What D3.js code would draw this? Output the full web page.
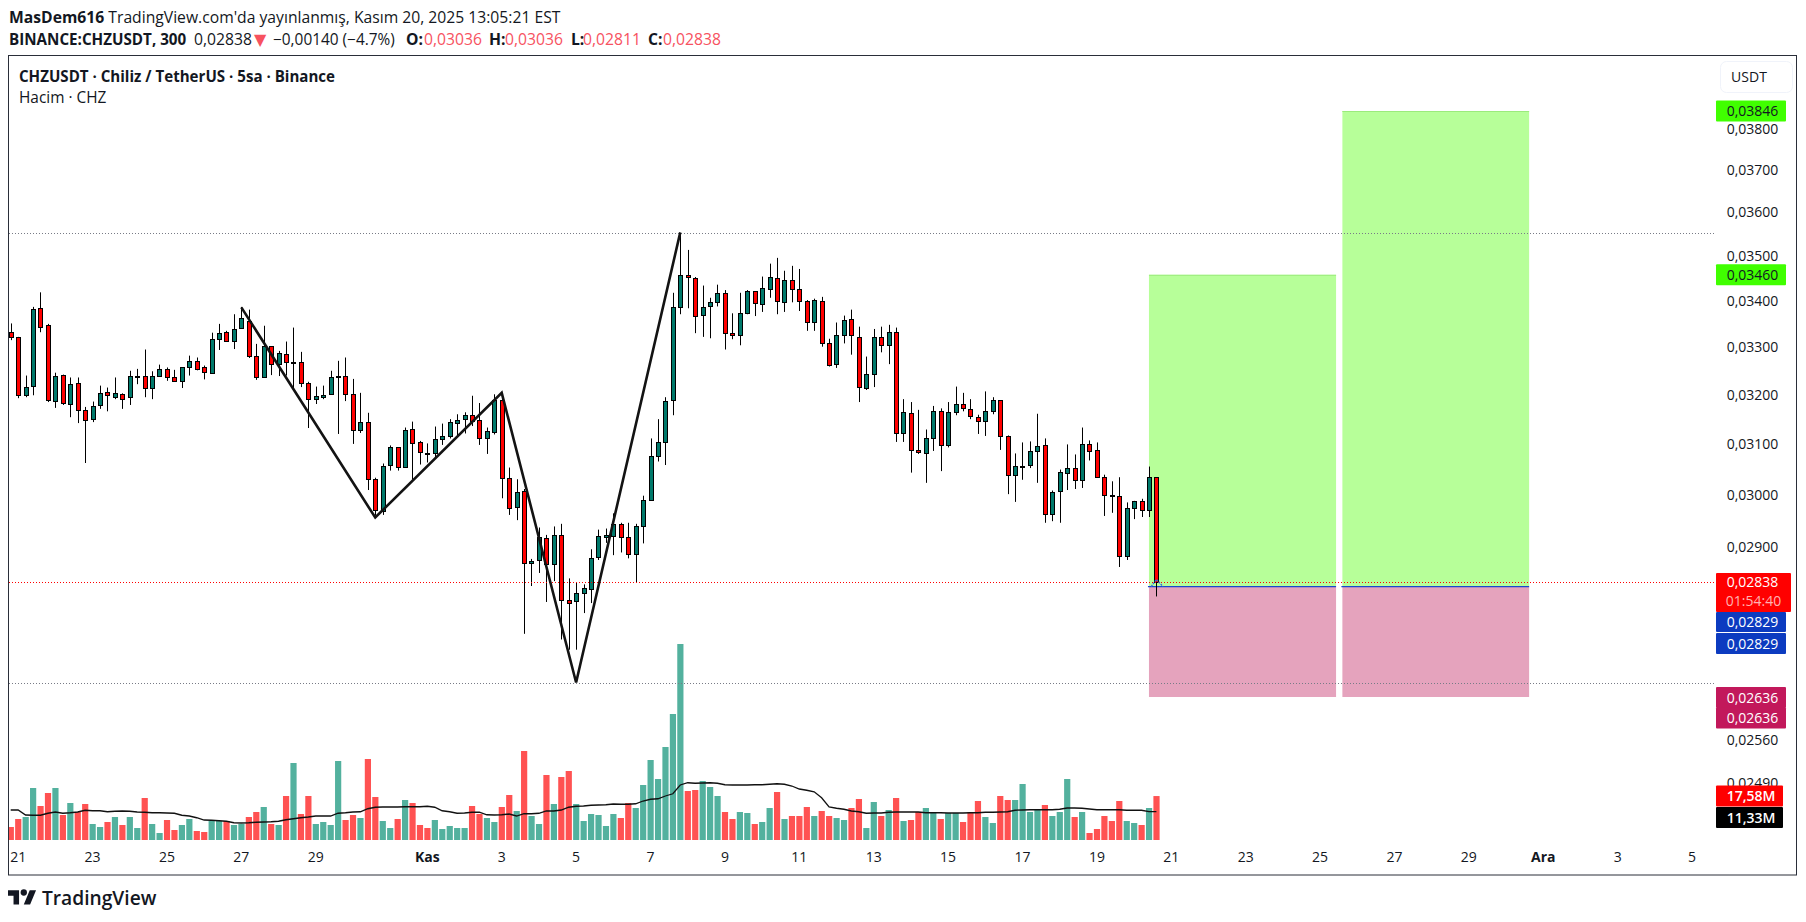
<!DOCTYPE html>
<html><head><meta charset="utf-8">
<script src="https://cdn.jsdelivr.net/npm/d3@7/dist/d3.min.js"></script>
<style>html,body{margin:0;padding:0;background:#fff;overflow:hidden}svg{display:block}text{font-family:"Open Sans",sans-serif}</style>
</head><body><div id="c"></div>
<script>
const opens=[.03335,.03324,.03202,.03221,.03387,.0335,.03189,.03244,.03183,.03227,.03171,.03153,.03181,.03208,.03198,.03204,.03198,.0324,.03242,.03217,.03242,.03256,.0324,.03231,.03259,.03273,.03259,.03248,.0332,.03335,.03316,.03344,.03359,.03284,.0324,.03304,.03267,.03288,.0327,.03271,.03227,.03193,.03198,.03204,.0324,.03242,.03204,.03129,.03147,.03032,.02971,.0306,.03095,.03057,.03133,.03105,.03084,.03084,.03111,.03117,.03145,.03153,.03161,.03151,.03114,.03125,.03191,.03034,.02979,.0301,.02873,.02878,.02919,.02871,.02925,.02805,.02802,.02818,.02824,.02884,.02921,.02923,.02946,.02921,.02889,.02942,.02992,.03077,.03106,.03191,.03389,.0346,.03453,.03372,.03391,.034,.0342,.03333,.03327,.03376,.03423,.03396,.03429,.03453,.034,.03449,.03429,.03402,.03357,.03402,.03311,.03267,.03329,.03363,.03324,.03217,.03246,.03324,.03307,.03335,.03123,.03165,.0309,.03083,.03113,.03169,.03099,.03167,.03183,.03173,.03157,.03149,.03169,.03191,.03117,.03041,.03058,.03061,.03088,.03099,.02964,.0301,.03045,.03055,.0303,.03101,.0309,.03037,.03002,.03,.02886,.02977,.0299,.02973,.03036];
const closes=[.03324,.03201,.03219,.03385,.03346,.03191,.03242,.03185,.03225,.03171,.03151,.03179,.03206,.03202,.03206,.03193,.03242,.03242,.03217,.03242,.03256,.0324,.03231,.03259,.03273,.03256,.0325,.0332,.03333,.03316,.03342,.03365,.03284,.0324,.03304,.03267,.0329,.03271,.03271,.03227,.03193,.032,.03202,.0324,.03242,.03204,.03129,.03147,.03033,.02972,.03059,.03095,.03057,.03131,.03103,.03086,.03083,.03111,.03117,.03146,.03151,.03161,.03149,.03114,.03128,.03191,.03034,.02977,.03008,.02873,.02877,.02921,.02871,.02925,.02805,.028,.02818,.02827,.02882,.02923,.02925,.02946,.02921,.02889,.02941,.02992,.03077,.03106,.03189,.03389,.0346,.03455,.0337,.03389,.034,.0342,.03333,.03327,.03376,.03423,.03398,.03431,.03455,.03402,.03449,.03429,.03402,.03357,.03404,.03311,.03265,.03329,.03361,.03327,.03219,.03246,.03324,.03307,.03335,.03123,.03167,.0309,.03085,.03113,.03169,.03099,.03167,.03183,.03175,.03159,.03149,.03169,.03191,.03117,.03041,.03059,.03059,.03088,.03097,.02964,.03008,.03047,.03055,.0303,.03101,.03088,.03037,.03002,.03,.02886,.02977,.02989,.02973,.03036,.02838];
const highs=[.03353,.03324,.03242,.03389,.03421,.03352,.03248,.03244,.03238,.03238,.03177,.03188,.03221,.03217,.03238,.03205,.03252,.03256,.03297,.03251,.03265,.03259,.03254,.03259,.03284,.0328,.03263,.03333,.03352,.03337,.03373,.03389,.03383,.03309,.03348,.03304,.03294,.03314,.03344,.03292,.03229,.03219,.03221,.03252,.03273,.0328,.03235,.03206,.03165,.03035,.03063,.03099,.03095,.03135,.03147,.03108,.03103,.03137,.03143,.03152,.03162,.03166,.032,.03185,.03135,.03203,.03206,.03055,.03032,.03013,.0288,.02939,.02925,.02941,.02946,.02844,.02836,.02833,.02898,.02935,.02937,.02966,.02948,.02948,.02946,.03,.03113,.03152,.03197,.0342,.03552,.03516,.03455,.03436,.03409,.03438,.03426,.03375,.0342,.03426,.03423,.03456,.03485,.03498,.03469,.0348,.03473,.03404,.03407,.03411,.0332,.03355,.0337,.03383,.03346,.03282,.03341,.03346,.0335,.03344,.03193,.03187,.03171,.03131,.03179,.03174,.03187,.03219,.03206,.03193,.03161,.03209,.03197,.03191,.03119,.03083,.03105,.03107,.03163,.03113,.0301,.03051,.03101,.03081,.03135,.03109,.03105,.03041,.03028,.03036,.02987,.0299,.02994,.03057,.03036];
const lows=[.03317,.03195,.03197,.03201,.03334,.03187,.03175,.03181,.03156,.03144,.03064,.03146,.03173,.03168,.03193,.03173,.03181,.03224,.03197,.03193,.0324,.03231,.03231,.03216,.03242,.03253,.03234,.03248,.03296,.03313,.03298,.03344,.03279,.03233,.03238,.03243,.03241,.03242,.03213,.03218,.03134,.03183,.03193,.03204,.03122,.03189,.03102,.03124,.03011,.02962,.02963,.03049,.03049,.03057,.03031,.03061,.03065,.03073,.031,.03113,.03117,.03123,.03138,.031,.03082,.03121,.02995,.02963,.02953,.02744,.0283,.02854,.02801,.02839,.02734,.02716,.02716,.02781,.02799,.02878,.0291,.02887,.02892,.02881,.02836,.02909,.02992,.03067,.0306,.0316,.03373,.03386,.03332,.03324,.03321,.0339,.03297,.03319,.03306,.03373,.03369,.03378,.03409,.03373,.03378,.03399,.0338,.03337,.03337,.03303,.03261,.03258,.0331,.03286,.03187,.03212,.03218,.03291,.03266,.03106,.03106,.03045,.03082,.03025,.03088,.03048,.03095,.0316,.03168,.03152,.03122,.03118,.03162,.0309,.03003,.02988,.03031,.03054,.03025,.02948,.02951,.02948,.03011,.03013,.03015,.03069,.03037,.02961,.02967,.02865,.02878,.02955,.02959,.02959,.02811];
const volumes=[5.2,8.4,9.2,20.8,13.6,18.8,20.8,10,14.8,11.2,14.4,6.4,5.2,7.2,9.2,6,9.2,4.8,16.8,6.4,2.8,8,4,6,8.4,3.6,3.2,7.6,7.6,7.6,6,6.4,9.2,11.2,13.2,6.4,6,17.6,30.8,10.4,17.6,6.4,7.2,6,31.6,8,10,8.8,32.4,17.2,7.6,4.8,8.4,16,14.8,6,4.8,8,4.4,5.6,4.8,4.8,13.6,10.4,8.8,7.2,13.2,18,11.6,35.6,9.6,6.4,26,14.4,25.2,27.6,14.4,7.6,10.4,10,5.6,10.4,8.8,14.8,12.8,22,32,24.4,37.2,50.4,78.4,19.6,20,23.6,21.2,17.6,11.2,8.4,11.2,10.8,6.4,7.2,12.8,19.2,8.4,9.6,9.6,13.2,9.6,11.6,9.6,8.8,8,12.8,16.4,4.8,15.2,9.6,12,16.8,7.6,8,11.2,12.8,10.8,8.4,10.8,10.8,7.2,11.2,15.6,9.2,6.8,17.6,16,16,22.4,11.2,12,14,9.6,11.2,24.4,9.2,11.2,2.8,4.4,9.6,7.6,15.6,7.6,6.8,6,12.8,17.58];
const volumeMA=[12,12,10,9.9,9.9,10.7,11.2,10.7,10.9,11.2,11.9,11.7,11.7,11.3,11.5,11.6,11.5,11.2,11.1,10.9,10.9,10.8,10.7,9.9,9.6,8.9,8,7.9,7.7,7.5,6.9,6.8,6.9,7.1,7.2,7.3,7.5,8.1,8.5,8.9,9.2,9.6,9.6,9.6,10.7,10.9,11.2,11.3,12.5,13.1,13.2,13.2,13.2,13.3,13.3,13.3,13.5,13.1,11.7,11.3,10.7,10.8,11.1,11.1,10.1,10,10.1,10.4,9.6,10.5,10.5,10.7,11.6,11.6,12,13.1,13.5,13.6,13.9,14,14.1,14.4,14.3,14.3,14.5,15.6,16.3,16.5,17.6,18.5,22,22.9,22.7,22.8,22.9,22.7,22.1,22,22,22,22.1,22.1,22.3,22.5,22.3,21.6,20.4,19.9,19.3,16.9,13.2,12.7,12.3,11.6,11.3,10.7,10.8,10.8,11.1,11.2,11.2,11.2,11.2,10.9,10.9,10.9,10.8,10.8,10.8,10.9,10.9,11.1,11.1,11.2,11.3,11.9,12,12.1,12.1,12.1,12.1,12.3,12.8,12.8,12.7,12.4,12.1,12.1,12.1,12.1,11.9,11.9,11.9,11.33,11.33];

const priceTicks=[.038,.037,.036,.035,.034,.033,.032,.031,.03,.029,.0256,.0249];
const dayTickLabels=["21","23","25","27","29","Kas","3","5","7","9","11","13","15","17","19","21","23","25","27","29","Ara","3","5"];
const dayTickIndex=[1,11,21,31,41,56,66,76,86,96,106,116,126,136,146,156,166,176,186,196,206,216,226];
const zigzagIndex=[31,49,66,76,90];
const zigzagPrice=[.03388,.02958,.03206,.02659,.03556];
const levelPrices=[.03554,.02657];
const lastPrice=.02838, entryPrice=.02829, stopPrice=.02636, target1=.0346, target2=.03846;
const positions=[{from:153,to:178.15,target:target1},{from:179,to:204.1,target:target2}];

const W=1806,H=922;
const svg=d3.select("#c").append("svg").attr("width",W).attr("height",H);
const x=d3.scaleLinear().domain([0,154]).range([10.7,1156.4]);
const y=d3.scaleLog().domain([.03846,.02636]).range([111,696]);
const v=d3.scaleLinear().domain([0,78.4]).range([840,644]);
const idx=d3.range(closes.length);
const UP="#00796b",DN="#ff0000",VUP="#53b19e",VDN="#ff5252";
const comma=p=>p.toFixed(5).replace(".",",");
const RED="#f7525f";

// header
const h1=svg.append("text").attr("x",9).attr("y",22.5).attr("font-size",15.7).attr("fill","#131722");
h1.append("tspan").attr("font-weight",700).text("MasDem616");
h1.append("tspan").text(" TradingView.com'da yayınlanmış, Kasım 20, 2025 13:05:21 EST");
const seg=(xx,t,bold,col,size)=>svg.append("text").attr("x",xx).attr("y",44.5).attr("font-size",size||15.7)
  .attr("font-weight",bold?700:400).attr("fill",col||"#131722").text(t);
seg(9,"BINANCE:CHZUSDT, 300",1,null,15.2);
seg(194,"0,02838");
seg(254,"▼",0,RED,16).style("font-family","DejaVu Sans");
seg(273,"−0,00140 (−4.7%)",0,null,15.4);
seg(406,"O:",1); seg(424,"0,03036",0,RED);
seg(489,"H:",1); seg(505,"0,03036",0,RED);
seg(571,"L:",1); seg(583,"0,02811",0,RED);
seg(648,"C:",1); seg(663,"0,02838",0,RED);

// frame
svg.append("defs").append("clipPath").attr("id","pane").append("rect").attr("x",9).attr("y",56).attr("width",1707).attr("height",784);
const pane=svg.append("g").attr("clip-path","url(#pane)");

// position boxes
positions.forEach(p=>{
  const x0=x(p.from),x1=x(p.to);
  pane.append("rect").attr("x",x0).attr("width",x1-x0).attr("y",y(p.target)).attr("height",y(entryPrice)-y(p.target)).attr("fill","#b7ff99");
  pane.append("line").attr("x1",x0).attr("x2",x1).attr("y1",y(p.target)+.5).attr("y2",y(p.target)+.5).attr("stroke","#9beb7c");
  pane.append("rect").attr("x",x0).attr("width",x1-x0).attr("y",y(entryPrice)).attr("height",y(stopPrice)-y(entryPrice)+1).attr("fill","#e5a3bd");
  pane.append("line").attr("x1",x0-1).attr("x2",x1).attr("y1",y(entryPrice)).attr("y2",y(entryPrice)).attr("stroke","#1848cc").attr("stroke-width",1.3);
});

// volume
pane.append("g").selectAll("rect").data(idx).join("rect")
  .attr("x",i=>x(i)-3).attr("width",6.2).attr("y",i=>v(volumes[i])).attr("height",i=>840-v(volumes[i]))
  .attr("fill",i=>closes[i]>=opens[i]?VUP:VDN);
pane.append("path").datum(idx).attr("fill","none").attr("stroke","#111").attr("stroke-width",1.3)
  .attr("d",d3.line().x(i=>x(i)).y(i=>v(volumeMA[i])));

// level lines
levelPrices.forEach(p=>pane.append("line").attr("x1",9).attr("x2",1714).attr("y1",Math.floor(y(p))+.5).attr("y2",Math.floor(y(p))+.5)
  .attr("stroke","#787b86").attr("stroke-dasharray","1 2"));

// candles
const cg=pane.append("g");
cg.selectAll("line").data(idx).join("line")
  .attr("x1",i=>Math.round(x(i))+.5).attr("x2",i=>Math.round(x(i))+.5)
  .attr("y1",i=>y(highs[i])).attr("y2",i=>y(lows[i])).attr("stroke","#000").attr("stroke-width",1);
cg.selectAll("rect").data(idx).join("rect")
  .attr("x",i=>Math.round(x(i))-1.5).attr("width",4)
  .attr("y",i=>Math.round(y(Math.max(opens[i],closes[i])))+.5)
  .attr("height",i=>Math.max(1,Math.round(y(Math.min(opens[i],closes[i])))-Math.round(y(Math.max(opens[i],closes[i])))))
  .attr("fill",i=>closes[i]>=opens[i]?UP:DN).attr("stroke","#000").attr("stroke-width",1);

// last price line
pane.append("line").attr("x1",9).attr("x2",1714).attr("y1",Math.round(y(lastPrice))+.5).attr("y2",Math.round(y(lastPrice))+.5)
  .attr("stroke","#ff0000").attr("stroke-dasharray","1 2");
// small entry marker
pane.append("path").attr("fill","none").attr("stroke","#2f6fe0").attr("stroke-width",1.3).attr("stroke-dasharray","2 1")
  .attr("d",d3.line().x(d=>x(d[0])).y(d=>y(d[1]))([[153.3,entryPrice],[154,lastPrice+.00004],[154.9,entryPrice]]));

// zigzag
pane.append("path").attr("fill","none").attr("stroke","#131313").attr("stroke-width",2.6).attr("stroke-linejoin","miter")
  .attr("d",d3.line().x(d=>x(d[0])).y(d=>y(d[1]))(zigzagIndex.map((d,i)=>[d,zigzagPrice[i]])));

// legend
svg.append("text").attr("x",19).attr("y",82).attr("font-size",15.1).attr("font-weight",700).attr("fill","#131722").text("CHZUSDT · Chiliz / TetherUS · 5sa · Binance");
svg.append("text").attr("x",19).attr("y",103).attr("font-size",15.4).attr("fill","#131722").text("Hacim · CHZ");

// price axis ticks
svg.append("g").selectAll("text").data(priceTicks).join("text")
  .attr("x",1752.5).attr("y",d=>y(d)+4).attr("text-anchor","middle").attr("font-size",14).attr("fill","#131722").text(comma);

// day axis
svg.append("g").selectAll("text").data(dayTickLabels).join("text")
  .attr("x",(d,i)=>x(dayTickIndex[i])).attr("y",862).attr("text-anchor","middle").attr("font-size",14)
  .attr("font-weight",d=>/[A-Za-z]/.test(d)?700:400).attr("fill","#131722").text(d=>d);

// frame border
svg.append("rect").attr("x",8.5).attr("y",55.5).attr("width",1788).attr("height",819.5).attr("fill","none").attr("stroke","#2a2e39");

// USDT button
svg.append("rect").attr("x",1720.5).attr("y",61.5).attr("width",72).attr("height",31).attr("rx",6).attr("fill","#fff").attr("stroke","#f0f3fa");
svg.append("text").attr("x",1749).attr("y",82).attr("text-anchor","middle").attr("font-size",14).attr("fill","#131722").text("USDT");

// price labels
const tag=(yc,h,w,fill,txt,col,wt)=>{
  svg.append("rect").attr("x",1716).attr("y",yc-h/2).attr("width",w).attr("height",h).attr("rx",1).attr("fill",fill);
  svg.append("text").attr("x",1716+w/2+1.5).attr("y",yc+5).attr("text-anchor","middle").attr("font-size",14).attr("font-weight",wt||400).attr("fill",col).text(txt);
};
tag(y(target2),21,70,"#40ff00",comma(target2),"#131722");
tag(y(target1),21,70,"#40ff00",comma(target1),"#131722");
svg.append("rect").attr("x",1716).attr("y",573).attr("width",75).attr("height",39).attr("rx",1).attr("fill","#ff0000");
svg.append("text").attr("x",1752.5).attr("y",y(lastPrice)+5).attr("text-anchor","middle").attr("font-size",14).attr("fill","#fff").text(comma(lastPrice));
svg.append("text").attr("x",1753.5).attr("y",606).attr("text-anchor","middle").attr("font-size",14).attr("fill","#ffb3b3").text("01:54:40");
tag(622,20,70,"#0c3bc0",comma(entryPrice),"#fff");
tag(643.5,21,70,"#0c3bc0",comma(entryPrice),"#fff");
tag(697.5,21,70,"#c2185b",comma(stopPrice),"#fff");
tag(718,21,70,"#c2185b",comma(stopPrice),"#fff");
tag(v(17.58),21,67,"#ff0000","17,58M","#fff",600);
tag(817.5,21,67,"#000000","11,33M","#fff",600);

// logo
const lg=svg.append("g").attr("transform","translate(8,887) scale(.79)").attr("fill","#131722");
lg.append("path").attr("d","M14 22H7V11H0V4h14v18ZM28 22h-8l7.5-18h8L28 22Z");
lg.append("circle").attr("cx",20).attr("cy",7).attr("r",4);
svg.append("text").attr("x",42).attr("y",905).attr("font-size",19.2).attr("font-weight",600).attr("fill","#131722").text("TradingView");
</script></body></html>
